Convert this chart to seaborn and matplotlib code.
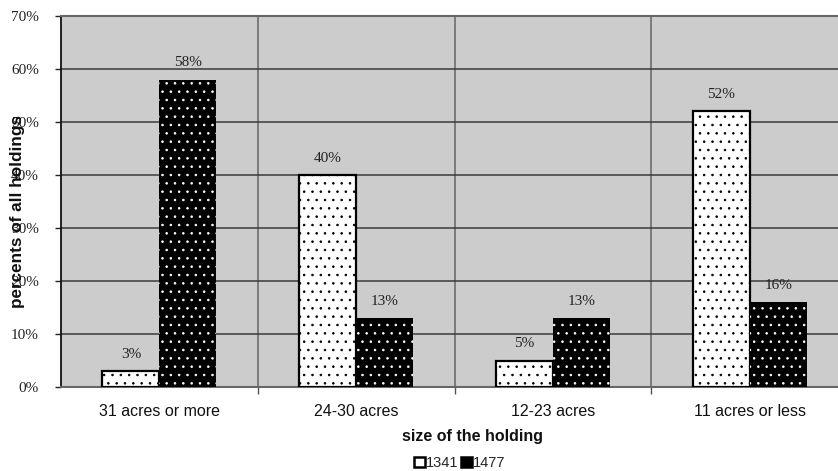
import matplotlib
matplotlib.use("Agg")
import matplotlib.pyplot as plt
from matplotlib.patches import Patch
import seaborn as sns
import pandas as pd

categories = ["31 acres or more", "24-30 acres", "12-23 acres", "11 acres or less"]
years = ["1341", "1477"]
share_1341 = [3, 40, 5, 52]
share_1477 = [58, 13, 13, 16]
y_ticks = [0, 10, 20, 30, 40, 50, 60, 70]

df = pd.DataFrame({
    "size": categories * 2,
    "year": [years[0]] * 4 + [years[1]] * 4,
    "share": share_1341 + share_1477,
})

sns.set_theme(style="white")
plt.rcParams["font.family"] = ["Liberation Sans", "DejaVu Sans"]
plt.rcParams["hatch.linewidth"] = 0.6

fig = plt.figure(figsize=(8.38, 4.71), dpi=100)
ax = fig.add_axes([61 / 838, 84 / 471, 787 / 838, 371 / 471])
ax.set_facecolor("#cccccc")

sns.barplot(data=df, x="size", y="share", hue="year", order=categories,
            hue_order=years, palette=["white", "black"], width=0.58,
            saturation=1, legend=False, ax=ax, zorder=3)

# dotted fill: black dots on the white bars, white dots on the black bars
for bar in ax.containers[0]:
    bar.set_hatch("..")
    bar.set_edgecolor("black")
    bar.set_linewidth(1.6)
for bar in ax.containers[1]:
    bar.set_hatch("..")
    bar.set_edgecolor("white")
    bar.set_linewidth(0)

serif = ["Liberation Serif", "DejaVu Serif"]
for cont, vals in zip(ax.containers, [share_1341, share_1477]):
    for bar, v in zip(cont, vals):
        ax.annotate(f"{v}%", (bar.get_x() + bar.get_width() / 2, v),
                    xytext=(0, 7.5), textcoords="offset points",
                    ha="center", va="bottom", fontsize=11,
                    family=serif, color="#222222")

ax.set_ylim(0, 70)
ax.set_xlim(-0.5, 3.5)
ax.set_yticks(y_ticks)
ax.set_yticklabels([f"{t}%" for t in y_ticks], family=serif, fontsize=11,
                   color="#222222")
ax.yaxis.grid(True, color="#3a3a3a", linewidth=1.1, zorder=1)
ax.set_axisbelow(True)

# separators between size groups
ax.set_xticks([0.5, 1.5, 2.5], minor=True)
ax.xaxis.grid(True, which="minor", color="#666666", linewidth=1.1)
ax.tick_params(axis="x", which="minor", length=5, width=1, color="#555555",
               direction="out", bottom=True)
ax.tick_params(axis="x", which="major", length=0, pad=12, labelsize=11.5,
               labelcolor="#111111")
ax.tick_params(axis="y", length=4, width=1, color="#222222", direction="out",
               left=True, pad=12)

for side in ["top", "bottom"]:
    ax.spines[side].set_color("#666666")
    ax.spines[side].set_linewidth(1.5)
ax.spines["left"].set_color("#111111")
ax.spines["left"].set_linewidth(1.3)
ax.spines["right"].set_visible(False)

ax.set_xlabel("size of the holding", fontsize=11.5, fontweight="bold",
              color="#111111")
ax.xaxis.set_label_coords((472 - 61) / 787, -(436 - 387) / 371)
ax.xaxis.label.set_va("center")
ax.set_ylabel("percents of all holdings", fontsize=12.3, fontweight="bold",
              color="#111111")
ax.yaxis.set_label_coords((17.5 - 61) / 787, (387 - 211) / 371)
ax.yaxis.label.set_va("center")

handles = [Patch(facecolor="white", edgecolor="black", linewidth=1.8),
           Patch(facecolor="black", edgecolor="black", linewidth=1.8)]
fig.legend(handles, years, loc="center", bbox_to_anchor=(460 / 838, 1 - 463 / 471),
           ncol=2, frameon=False, fontsize=10.5, handlelength=0.7,
           handleheight=0.7, handletextpad=0.1, columnspacing=0.2,
           borderpad=0, borderaxespad=0)

fig.savefig("out.png", dpi=100)
